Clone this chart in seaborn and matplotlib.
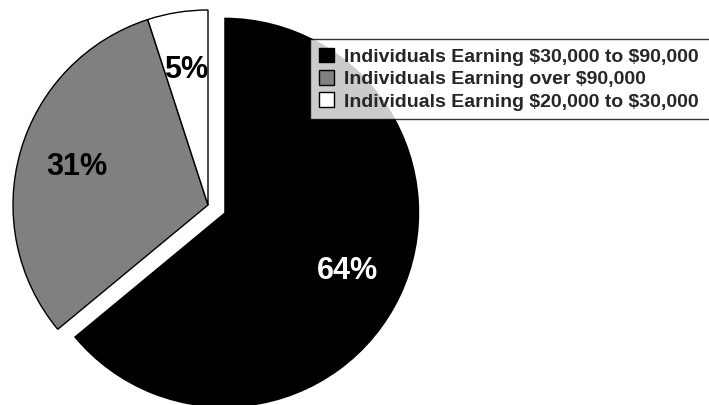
import matplotlib
matplotlib.use("Agg")
import matplotlib.pyplot as plt
import seaborn as sns

categories = ["Individuals Earning $30,000 to $90,000",
              "Individuals Earning over $90,000",
              "Individuals Earning $20,000 to $30,000"]
values = [64, 31, 5]
colors = ["#000000", "#808080", "#ffffff"]
label_colors = ["white", "black", "black"]

sns.set_theme(style="white")
plt.rcParams['font.family'] = ['Liberation Sans', 'DejaVu Sans']

W, H, dpi = 709, 405, 100
fig = plt.figure(figsize=(W / dpi, H / dpi), dpi=dpi)
ax = fig.add_axes([0, 0, 1, 1])

R = 195.0
cx, cy = 208.0, 205.0  # pixel center (from top)
wedges, texts, autotexts = ax.pie(
    values, colors=colors, startangle=90, counterclock=False,
    explode=[0.092, 0, 0], radius=1.0,
    autopct=lambda p: f"{p:.0f}%", pctdistance=0.70,
    wedgeprops=dict(edgecolor="black", linewidth=1.0),
    textprops=dict(fontsize=22, fontweight="bold"))
wedges[0].set_linewidth(0)
for t, c in zip(autotexts, label_colors):
    t.set_color(c)

ax.set_xlim(-cx / R, (W - cx) / R)
ax.set_ylim(-(H - cy) / R, cy / R)
ax.set_aspect("equal")
ax.axis("off")

labels = [c.replace("$", r"\$") for c in categories]
x0 = 310
leg = fig.legend(wedges, labels, loc="upper left", mode="expand",
                 bbox_to_anchor=(x0 / W, 1 - 39 / H, (716 - x0) / W, 0),
                 borderaxespad=0,
                 frameon=True, fancybox=False, shadow=False,
                 prop=dict(size=14, weight="bold"),
                 handlelength=0.78, handleheight=0.78, handletextpad=0.5,
                 labelspacing=0.22, borderpad=0.45)
leg.get_frame().set_edgecolor("black")
leg.get_frame().set_linewidth(1.0)
leg.get_frame().set_facecolor("white")
for h in leg.legend_handles:
    h.set_edgecolor("black")
    h.set_linewidth(1.0)

fig.savefig("out.png", dpi=dpi)
